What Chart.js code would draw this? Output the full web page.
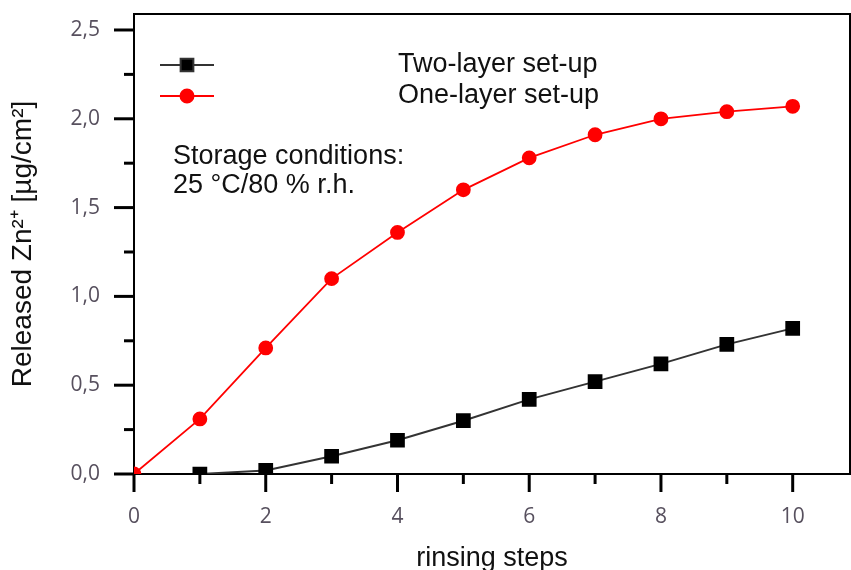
<!DOCTYPE html>
<html>
<head>
<meta charset="utf-8">
<script src="https://cdn.jsdelivr.net/npm/chart.js@4/dist/chart.umd.min.js"></script>
<style>
  html, body { margin: 0; padding: 0; overflow: hidden; background: #ffffff; }
  #wrap { position: absolute; left: 0; top: 0; width: 851px; height: 570px; }
  canvas { display: block; }
</style>
</head>
<body>
<div id="wrap"><canvas id="zincChart"></canvas></div>
<script>
const rinsingSteps = [0, 1, 2, 3, 4, 5, 6, 7, 8, 9, 10];
const twoLayer = [null, 0.0, 0.02, 0.1, 0.19, 0.3, 0.42, 0.52, 0.62, 0.73, 0.82];
const oneLayer = [0, 0.31, 0.71, 1.1, 1.36, 1.6, 1.78, 1.91, 2.0, 2.04, 2.07];
const seriesNames = ["Two-layer set-up", "One-layer set-up"];
const noteLines = ["Storage conditions:", "25 \u00b0C/80 % r.h."];

const bigFont = "Liberation Sans, Arial, sans-serif";
const tickFont = "Open Sans, sans-serif";

function toPoints(values) {
  return rinsingSteps.map((step, i) => ({ x: step, y: values[i] }));
}

function clearPadding(scale) {
  scale.paddingTop = 0;
  scale.paddingBottom = 0;
  scale.paddingLeft = 0;
  scale.paddingRight = 0;
}

// top/right frame plus outward major and minor ticks
const frameAndTicks = {
  id: "frameAndTicks",
  afterDraw(chart) {
    const { ctx, chartArea, scales } = chart;
    ctx.save();
    ctx.strokeStyle = "#000000";
    ctx.lineWidth = 2;
    ctx.beginPath();
    ctx.moveTo(chartArea.left, chartArea.top);
    ctx.lineTo(chartArea.right, chartArea.top);
    ctx.lineTo(chartArea.right, chartArea.bottom);
    ctx.stroke();

    ctx.lineWidth = 3;
    scales.x.ticks.forEach((tick) => {
      const px = scales.x.getPixelForValue(tick.value);
      const len = tick.value % 2 === 0 ? 18 : 10;
      ctx.beginPath();
      ctx.moveTo(px, chartArea.bottom);
      ctx.lineTo(px, chartArea.bottom + len);
      ctx.stroke();
    });
    scales.y.ticks.forEach((tick) => {
      const py = scales.y.getPixelForValue(tick.value);
      const len = Math.round(tick.value * 100) % 50 === 0 ? 20 : 10;
      ctx.beginPath();
      ctx.moveTo(chartArea.left, py);
      ctx.lineTo(chartArea.left - len, py);
      ctx.stroke();
    });
    ctx.restore();
  },
};

// legend with samples on the left and names far to the right, plus the note
const insideLegend = {
  id: "insideLegend",
  afterDraw(chart) {
    const { ctx } = chart;
    const rows = [65, 96];
    ctx.save();
    chart.data.datasets.forEach((ds, i) => {
      const y = rows[i];
      ctx.strokeStyle = ds.borderColor;
      ctx.fillStyle = ds.pointBackgroundColor;
      ctx.lineWidth = 2;
      ctx.beginPath();
      ctx.moveTo(160, y);
      ctx.lineTo(214, y);
      ctx.stroke();
      Chart.helpers.drawPoint(
        ctx,
        { pointStyle: ds.pointStyle, radius: ds.pointRadius, rotation: 0, borderWidth: 1 },
        187,
        y
      );
      ctx.fillStyle = "#111111";
      ctx.font = "27px " + bigFont;
      ctx.textBaseline = "middle";
      ctx.textAlign = "left";
      ctx.fillText(ds.label, 398, y);
    });
    ctx.fillStyle = "#111111";
    ctx.font = "27px " + bigFont;
    ctx.textBaseline = "middle";
    noteLines.forEach((line, i) => {
      ctx.fillText(line, 173, 157 + i * 29);
    });
    ctx.restore();
  },
};

new Chart(document.getElementById("zincChart"), {
  type: "line",
  data: {
    datasets: [
      {
        label: seriesNames[0],
        data: toPoints(twoLayer),
        borderColor: "#333333",
        backgroundColor: "#000000",
        pointBackgroundColor: "#000000",
        pointBorderColor: "#000000",
        pointStyle: "rect",
        pointRadius: 9,
        borderWidth: 2,
        tension: 0,
      },
      {
        label: seriesNames[1],
        data: toPoints(oneLayer),
        borderColor: "#ff0000",
        backgroundColor: "#ff0000",
        pointBackgroundColor: "#ff0000",
        pointBorderColor: "#ff0000",
        pointStyle: "circle",
        pointRadius: 6.5,
        borderWidth: 1.8,
        tension: 0,
      },
    ],
  },
  options: {
    responsive: true,
    maintainAspectRatio: false,
    animation: false,
    layout: { autoPadding: false, padding: { top: 14, right: 1, left: 0, bottom: 0 } },
    plugins: {
      legend: { display: false },
      tooltip: { enabled: false },
    },
    scales: {
      x: {
        type: "linear",
        min: 0,
        max: 10.87,
        afterFit: (scale) => {
          scale.height = 96;
          clearPadding(scale);
        },
        grid: { display: false, drawTicks: false },
        border: { display: true, color: "#000000", width: 2 },
        ticks: {
          stepSize: 1,
          includeBounds: false,
          padding: 30,
          color: "#57505e",
          font: { family: tickFont, size: 21 },
          callback: (value) => (value % 2 === 0 ? String(value) : ""),
        },
        title: {
          display: true,
          text: "rinsing steps",
          color: "#111111",
          font: { family: bigFont, size: 27 },
          padding: { top: 0, bottom: -5 },
        },
      },
      y: {
        min: 0,
        max: 2.59,
        afterFit: (scale) => {
          scale.width = 134;
          clearPadding(scale);
        },
        grid: { display: false, drawTicks: false },
        border: { display: true, color: "#000000", width: 2 },
        ticks: {
          stepSize: 0.25,
          includeBounds: false,
          padding: 34,
          color: "#57505e",
          font: { family: tickFont, size: 21 },
          callback: (value) =>
            Math.round(value * 100) % 50 === 0 ? value.toFixed(1).replace(".", ",") : "",
        },
        title: {
          display: true,
          text: "Released Zn\u00b2\u207a [\u00b5g/cm\u00b2]",
          color: "#111111",
          font: { family: bigFont, size: 28 },
          padding: { top: 6, bottom: 0 },
        },
      },
    },
  },
  plugins: [frameAndTicks, insideLegend],
});
</script>
</body>
</html>
